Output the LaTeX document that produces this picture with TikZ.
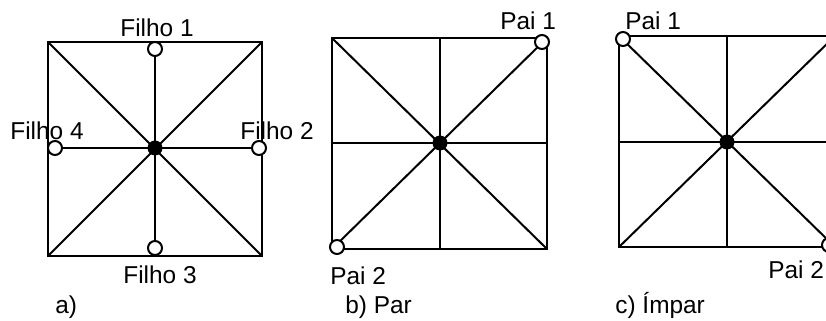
\documentclass[tikz,border=0pt]{standalone}
\usepackage{fontspec}
\setmainfont{Liberation Sans}
\begin{document}
\begin{tikzpicture}[x=0.5pt,y=-0.5pt,
  ln/.style={line width=1pt,black},
  open/.style={circle,draw=black,line width=1pt,fill=white,minimum size=7pt,inner sep=0pt},
  full/.style={circle,fill=black,minimum size=7.5pt,inner sep=0pt},
  lbl/.style={anchor=base west,inner sep=0pt,font=\fontsize{12.2pt}{14pt}\selectfont}]
\clip (0,0) rectangle (826,321);
% ---------- a) ----------
\coordinate (aTL) at (48,42); \coordinate (aTR) at (262,42);
\coordinate (aBL) at (48,256); \coordinate (aBR) at (262,256);
\draw[ln] (aTL) rectangle (aBR);
\draw[ln] (aTL) -- (aBR);
\draw[ln] (aTR) -- (aBL);
\node[open] (f1) at (155,49) {};
\node[open] (f2) at (259,148) {};
\node[open] (f3) at (155,248) {};
\node[open] (f4) at (55,148) {};
\draw[ln] (f1) -- (f3);
\draw[ln] (f4) -- (f2);
\node[full] (ac) at (155,148) {};
\node[lbl] (tf1) at (120,36) {Filho 1};
\node[lbl] (tf4) at (10,139) {Filho 4};
\node[lbl] (tf2) at (240,139) {Filho 2};
\node[lbl] (tf3) at (123,283) {Filho 3};
\node[lbl] (ta) at (55,313) {a)};
% ---------- b) ----------
\coordinate (bTL) at (332,38); \coordinate (bTR) at (547,38);
\coordinate (bBL) at (332,249); \coordinate (bBR) at (547,249);
\coordinate (bT) at (440,38); \coordinate (bB) at (440,249);
\coordinate (bL) at (332,143); \coordinate (bR) at (547,143);
\draw[ln] (bTL) rectangle (bBR);
\draw[ln] (bT) -- (bB);
\draw[ln] (bL) -- (bR);
\draw[ln] (bTL) -- (bBR);
\draw[ln] (bTR) -- (bBL);
\node[full] (bc) at (440,143) {};
\node[open] (bp1) at (542,42) {};
\node[open] (bp2) at (337,247) {};
\node[lbl] (tbp1) at (500,30) {Pai 1};
\node[lbl] (tbp2) at (330,284) {Pai 2};
\node[lbl] (tb) at (345,313) {b) Par};
% ---------- c) ----------
\coordinate (cTL) at (619,36); \coordinate (cTR) at (835,36);
\coordinate (cBL) at (619,247); \coordinate (cBR) at (835,247);
\coordinate (cT) at (727,36); \coordinate (cB) at (727,247);
\coordinate (cL) at (619,142); \coordinate (cR) at (835,142);
\draw[ln] (cTL) rectangle (cBR);
\draw[ln] (cT) -- (cB);
\draw[ln] (cL) -- (cR);
\draw[ln] (cTL) -- (cBR);
\draw[ln] (cTR) -- (cBL);
\node[full] (cc) at (727,142) {};
\node[open] (cp1) at (623,39) {};
\node[open] (cp2) at (829,245) {};
\node[lbl] (tcp1) at (625,30) {Pai 1};
\node[lbl] (tcp2) at (768,278) {Pai 2};
\node[lbl] (tc) at (615,313) {c) Ímpar};
\end{tikzpicture}
\end{document}
